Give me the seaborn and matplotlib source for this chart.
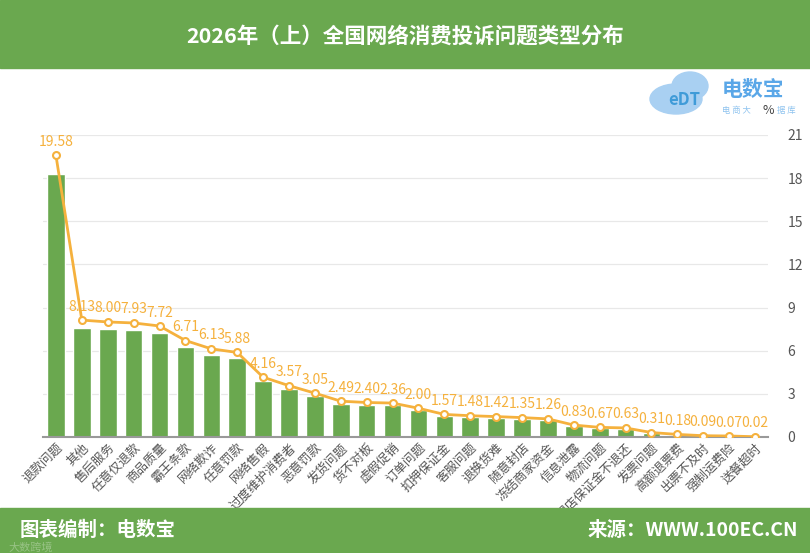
import matplotlib
matplotlib.use("Agg")
import matplotlib.pyplot as plt
import seaborn as sns
import numpy as np
import pandas as pd
from matplotlib.patches import Rectangle, Ellipse

categories = ["退款问题", "其他", "售后服务", "任意仅退款", "商品质量", "霸王条款", "网络欺诈",
              "任意罚款", "网络售假", "过度维护消费者", "恶意罚款", "发货问题", "货不对板",
              "虚假促销", "订单问题", "扣押保证金", "客服问题", "退换货难", "随意封店",
              "冻结商家资金", "信息泄露", "物流问题", "退店保证金不退还", "发票问题",
              "高额退票费", "出票不及时", "强制运费险", "送餐超时"]
shares = [19.58, 8.13, 8.00, 7.93, 7.72, 6.71, 6.13, 5.88, 4.16, 3.57, 3.05, 2.49, 2.40,
          2.36, 2.00, 1.57, 1.48, 1.42, 1.35, 1.26, 0.83, 0.67, 0.63, 0.31, 0.18, 0.09,
          0.07, 0.02]
right_ticks = [0, 3, 6, 9, 12, 15, 18, 21]

GREEN = "#6aa84f"
ORANGE = "#f5b13d"
BAR_TOP = 22.45   # hidden left axis used by the bars
LINE_TOP = 21

sns.set_theme(style="white")
plt.rcParams['font.family'] = ['Noto Sans CJK SC', 'DejaVu Sans']

df = pd.DataFrame({"cat": categories, "val": shares})

fig = plt.figure(figsize=(8.1, 5.53), dpi=100)
W, H = 810, 553

# header / footer bands
fig.patches.append(Rectangle((0, 1 - 68 / H), 1, 68 / H, transform=fig.transFigure,
                             color=GREEN, zorder=0))
fig.patches.append(Rectangle((0, 0), 1, 45 / H, transform=fig.transFigure,
                             color=GREEN, zorder=0))
fig.text(0.5, 1 - 36 / H, "2026年（上）全国网络消费投诉问题类型分布", ha="center", va="center",
         color="white", fontsize=15.5, fontweight="bold")
fig.text(20 / W, 23 / H, "图表编制：电数宝", ha="left", va="center", color="white",
         fontsize=14, fontweight="bold")
fig.text(1 - 12 / W, 23 / H, "来源：WWW.100EC.CN", ha="right", va="center", color="white",
         fontsize=14, fontweight="bold")
fig.text(8 / W, 5 / H, "大数跨境", ha="left", va="center", color="white", alpha=0.3,
         fontsize=8)

# logo approximation
cloud = "#a9d0f2"
fig.patches.append(Ellipse((676 / W, 1 - 99 / H), 52 / W, 30 / H, transform=fig.transFigure,
                           color=cloud, zorder=1))
fig.patches.append(Ellipse((690 / W, 1 - 86 / H), 36 / W, 28 / H, transform=fig.transFigure,
                           color=cloud, zorder=1))
fig.text(684 / W, 1 - 100 / H, "eDT", ha="center", va="center", color="#3f9bd8",
         fontsize=12, fontweight="bold", zorder=2)
fig.text(722 / W, 1 - 89 / H, "电数宝", ha="left", va="center", color="#5aa7e8",
         fontsize=15, fontweight="bold")
fig.text(722 / W, 1 - 110 / H, "电 商 大", ha="left", va="center", color="#8ec3ef",
         fontsize=6)
fig.text(777 / W, 1 - 110 / H, "据 库", ha="left", va="center", color="#8ec3ef",
         fontsize=6)
fig.text(768 / W, 1 - 110 / H, "%", ha="center", va="center", color="#444444", fontsize=9)

ax = fig.add_axes([43 / W, 1 - 437 / H, 725 / W, 302 / H])
ax2 = ax.twinx()

# grid behind the bars (drawn in the bar axis, scaled to the right axis ticks)
for t in right_ticks[1:]:
    ax.axhline(t * BAR_TOP / LINE_TOP, color="#e8e8e8", lw=0.9, zorder=0)

sns.barplot(data=df, x="cat", y="val", ax=ax, color=GREEN, width=0.68, saturation=1,
            zorder=2)
ax.set_ylim(0, BAR_TOP)
ax.set_xlim(-0.5, len(categories) - 0.5)
ax.set_yticks([])
ax.set_xlabel("")
ax.set_ylabel("")

x = np.arange(len(categories))
ax2.plot(x, shares, color=ORANGE, lw=2, marker="o", ms=5, mfc="white", mec=ORANGE,
         mew=1.5, zorder=5)
for xi, v in zip(x, shares):
    ax2.text(xi, v + 0.45, f"{v:.2f}", ha="center", va="bottom", color=ORANGE, fontsize=10)
ax2.set_ylim(0, LINE_TOP)
ax2.set_yticks(right_ticks)
ax2.tick_params(axis="y", length=0, labelsize=10, labelcolor="#555555", pad=14)
ax2.patch.set_visible(False)

for a in (ax, ax2):
    for s in a.spines.values():
        s.set_visible(False)
ax.spines["bottom"].set_visible(True)
ax.spines["bottom"].set_color("#999999")
ax.spines["bottom"].set_linewidth(1.5)

ax.set_xticks(x)
ax.set_xticklabels(categories, rotation=45, ha="right", rotation_mode="anchor",
                   fontsize=9, color="#555555")
ax.tick_params(axis="x", length=0, pad=3)

fig.savefig("out.png", dpi=100)
